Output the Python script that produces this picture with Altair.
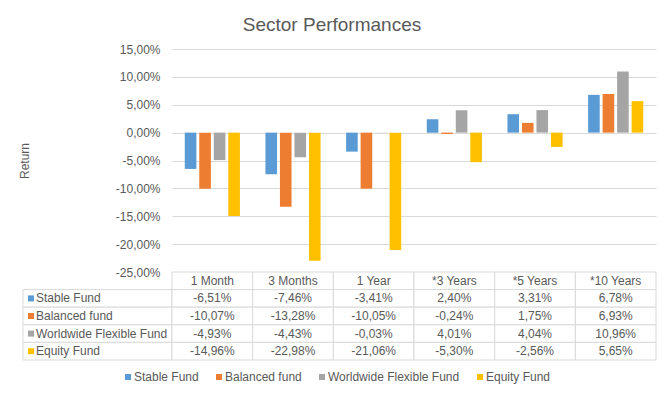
import altair as alt
import pandas as pd

categories = ["1 Month", "3 Months", "1 Year", "*3 Years", "*5 Years", "*10 Years"]
series_names = ["Stable Fund", "Balanced fund", "Worldwide Flexible Fund", "Equity Fund"]
stable = [-6.51, -7.46, -3.41, 2.40, 3.31, 6.78]
balanced = [-10.07, -13.28, -10.05, -0.24, 1.75, 6.93]
worldwide = [-4.93, -4.43, -0.03, 4.01, 4.04, 10.96]
equity = [-14.96, -22.98, -21.06, -5.30, -2.56, 5.65]
colors = ["#5B9BD5", "#ED7D31", "#A5A5A5", "#FFC000"]
y_ticks = [-0.25, -0.20, -0.15, -0.10, -0.05, 0.0, 0.05, 0.10, 0.15]

FONT = "Liberation Sans"
TXT = "#595959"
GRID = "#d9d9d9"

rows = []
for name, vals in zip(series_names, [stable, balanced, worldwide, equity]):
    for cat, v in zip(categories, vals):
        rows.append({"category": cat, "series": name, "row": name, "value": v / 100,
                     "label": f"{v:.2f}%".replace(".", ",")})
df = pd.DataFrame(rows)
header_df = pd.DataFrame({"category": categories, "row": ["header"] * len(categories)})
label_df = pd.DataFrame({"series": series_names, "row": series_names})

row_domain = ["header"] + series_names


def row_y():
    return alt.Y("row:N", scale=alt.Scale(type="band", domain=row_domain, range=[223, 311],
                                          paddingInner=0, paddingOuter=0), axis=None)


def cat_x():
    return alt.X("category:N", sort=categories,
                 scale=alt.Scale(domain=categories, paddingInner=0, paddingOuter=0), axis=None)


legend = alt.Legend(orient="none", legendX=-50, legendY=322, direction="horizontal", title=None,
                    symbolType="square", symbolSize=36, symbolStrokeWidth=0, labelFontSize=12,
                    labelColor=TXT, labelFont=FONT, columnPadding=14, labelOffset=0)


def color_enc():
    return alt.Color("series:N", sort=series_names,
                     scale=alt.Scale(domain=series_names, range=colors), legend=legend)


label_expr = "replace(replace(format(datum.value, '.2%'), '.', ','), '\u2212', '-')"

bars = alt.Chart(df).mark_bar().encode(
    x=cat_x(),
    xOffset=alt.XOffset("series:N", sort=series_names,
                        scale=alt.Scale(domain=series_names, paddingInner=0.2, paddingOuter=0.88)),
    y=alt.Y("value:Q", scale=alt.Scale(domain=[-0.25, 0.15], nice=False),
            axis=alt.Axis(values=y_ticks, labelExpr=label_expr, title="Return",
                          titleFontWeight="normal", titleFontSize=12, titleColor=TXT, titleFont=FONT,
                          labelColor=TXT, labelFontSize=12, labelFont=FONT, ticks=False, domain=False,
                          gridColor=GRID, gridWidth=1, labelPadding=12, titlePadding=84,
                          labelFlush=False)),
    color=color_enc(),
)

cell_style = dict(fill="white", stroke=GRID, strokeWidth=1)

label_cells = alt.Chart(label_df).mark_rect(**cell_style).encode(
    x=alt.value(-149), x2=alt.value(0), y=row_y())
header_cells = alt.Chart(header_df).mark_rect(**cell_style).encode(x=cat_x(), y=row_y())
value_cells = alt.Chart(df).mark_rect(**cell_style).encode(x=cat_x(), y=row_y())

text_style = dict(fontSize=12, color=TXT, font=FONT, baseline="middle")

header_text = alt.Chart(header_df).mark_text(align="center", **text_style).encode(
    x=cat_x(), y=row_y(), text="category:N")
value_text = alt.Chart(df).mark_text(align="center", **text_style).encode(
    x=cat_x(), y=row_y(), text="label:N")
label_text = alt.Chart(label_df).mark_text(align="left", **text_style).encode(
    x=alt.value(-136), y=row_y(), text="series:N")
squares = alt.Chart(label_df).mark_square(size=36, opacity=1, strokeWidth=0).encode(
    x=alt.value(-141), y=row_y(), color=color_enc())

chart = alt.layer(
    bars, label_cells, header_cells, value_cells, header_text, value_text, label_text, squares
).resolve_scale(y="independent").properties(
    width=484, height=223,
    autosize=alt.AutoSizeParams(type="none"),
    padding={"left": 164, "top": 41, "right": 7, "bottom": 117},
    title=alt.Title("Sector Performances", fontSize=19, color=TXT, font=FONT, fontWeight="normal",
                    anchor="middle", frame="group", dx=-82, offset=8),
).configure_view(stroke=None)

chart.save("out.html", embed_options={"renderer": "svg", "actions": False})
